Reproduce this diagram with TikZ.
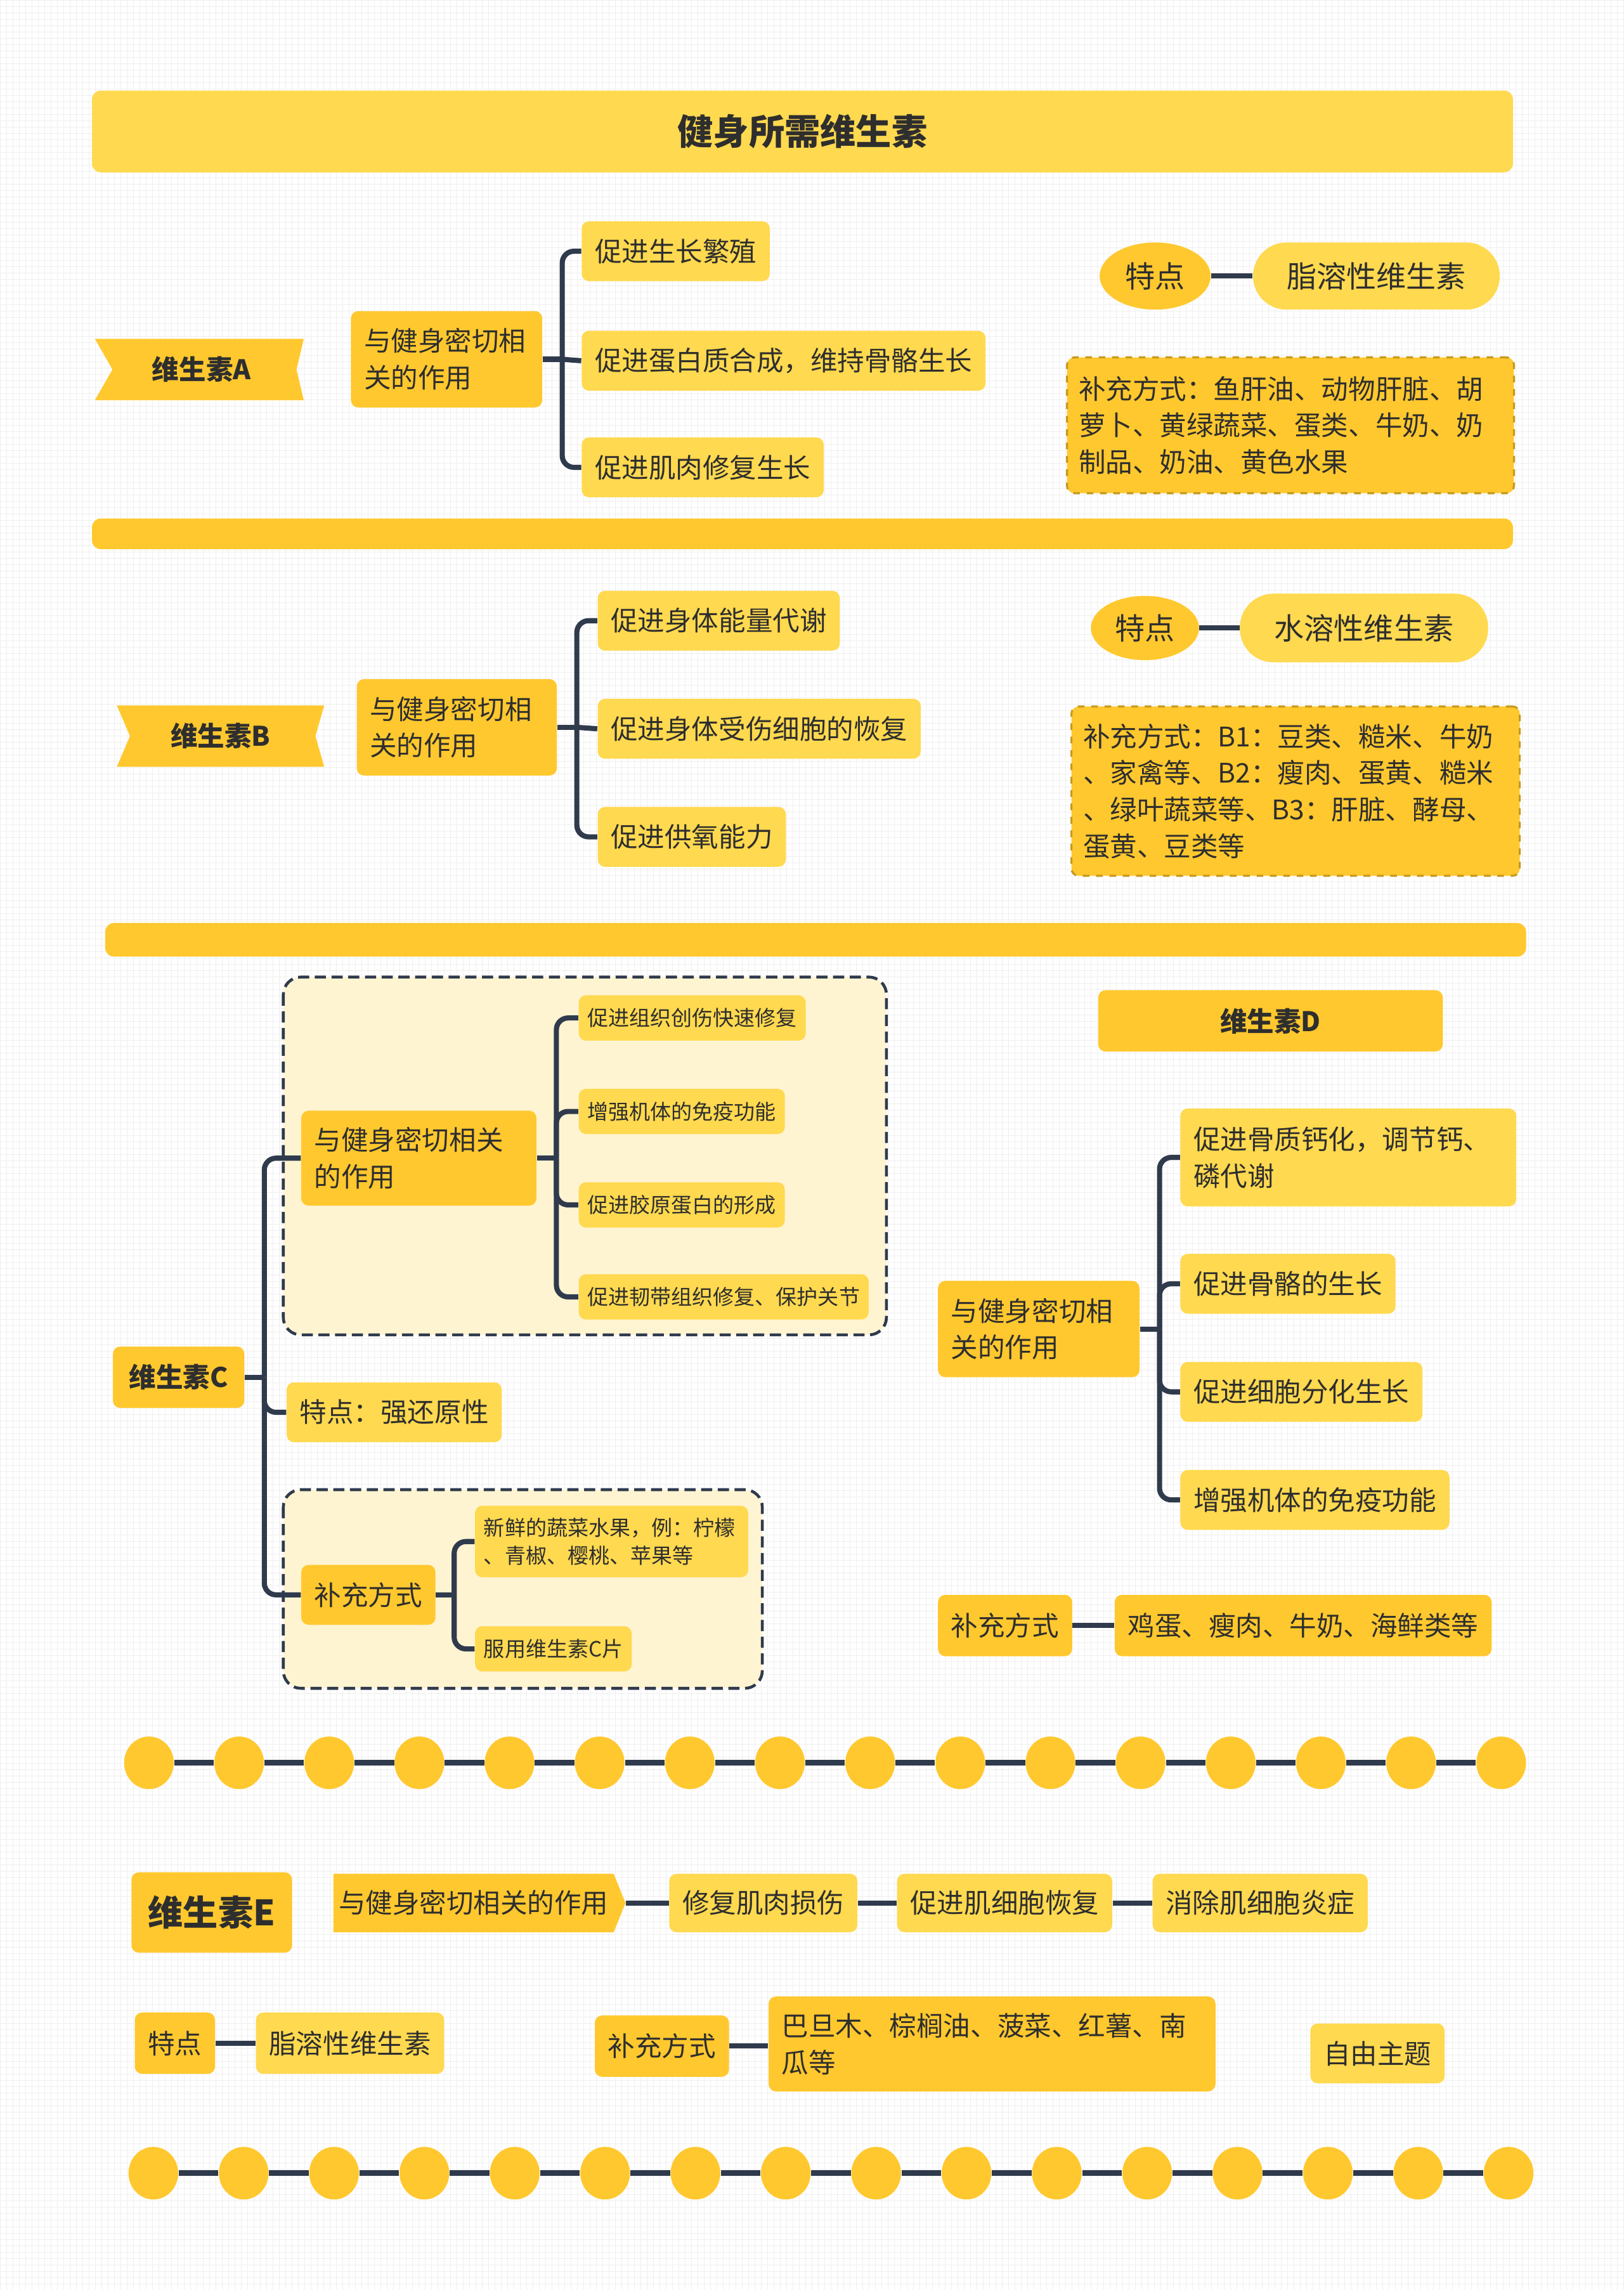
\documentclass[tikz,border=0pt]{standalone}
\usepackage{fontspec}
\setmainfont{Noto Sans CJK SC}
\usepackage{xcolor}
\usetikzlibrary{shapes.geometric,shapes.symbols}

\definecolor{ylight}{HTML}{FFD94F}
\definecolor{ydark}{HTML}{FFC82E}
\definecolor{ycream}{HTML}{FFF4D2}
\definecolor{linkc}{HTML}{2F3A4C}
\definecolor{txtc}{HTML}{2E2E2E}
\definecolor{dashc}{HTML}{C79A1C}
\definecolor{gridc}{HTML}{EFEFEF}

\newdimen\pxu
\pxu=0.023022cm
\newcommand\fnorm{\fontsize{12.1pt}{16.4pt}\selectfont}
\newcommand\fpill{\fontsize{13.4pt}{17pt}\selectfont}
\newcommand\fsmall{\fontsize{9.4pt}{12.6pt}\selectfont}
\newcommand\fhead{\fontsize{12.1pt}{16.4pt}\selectfont\bfseries}
\newcommand\ftitle{\fontsize{16pt}{20pt}\selectfont\bfseries}
\newcommand\fbigE{\fontsize{15.7pt}{20pt}\selectfont\bfseries}

\tikzset{
  leaf/.style={fill=ylight, text=txtc, font=\fnorm, rounded corners=5\pxu,
    inner xsep=9\pxu, inner ysep=0pt, minimum height=41\pxu, anchor=west},
  parent/.style={leaf, fill=ydark},
  smallleaf/.style={leaf, font=\fsmall, inner xsep=6\pxu, minimum height=31\pxu},
  headbox/.style={fill=ydark, text=txtc, font=\fhead, rounded corners=5\pxu,
    inner sep=0pt, minimum height=42\pxu},
  supply/.style={fill=ydark, draw=dashc, dashed, line width=0.9pt, text=txtc,
    font=\fnorm, rounded corners=5\pxu, align=left, inner xsep=8\pxu,
    anchor=north west},
  region/.style={fill=ycream, draw=linkc, line width=1.3pt,
    dash pattern=on 5pt off 2.5pt, rounded corners=12\pxu},
  oval/.style={ellipse, fill=ydark, text=txtc, font=\fpill, inner sep=0pt},
  pill/.style={fill=ylight, text=txtc, font=\fpill, inner sep=0pt,
    rounded corners=23\pxu},
  link/.style={draw=linkc, line width=2.3pt},
  elbow/.style={link, rounded corners=8\pxu},
  bead/.style={ellipse, fill=ydark, inner sep=0pt, minimum width=34\pxu,
    minimum height=36\pxu},
  bar/.style={fill=ydark, rounded corners=6\pxu}
}

\begin{document}
\begin{tikzpicture}[x=0.023022cm, y=-0.023022cm]
\useasboundingbox (0,0) rectangle (1112,1568);
\fill[white] (0,0) rectangle (1112,1568);
\draw[gridc, line width=0.2pt, step=0.1cm] (0,0) grid (1112,1568);

% title
\node[fill=ylight, text=txtc, font=\ftitle, rounded corners=6\pxu,
  minimum width=973\pxu, minimum height=56\pxu] (title) at (549.5,90) {健身所需维生素};
\fill[bar] (63,355) rectangle (1036,376);
\fill[bar] (72,632) rectangle (1045,655);

% vitamin A
\fill[ydark] (65,232) -- (208,232) -- (203,253) -- (208,274) -- (65,274) -- (77,253) -- cycle;
\node[text=txtc, font=\fhead] (vA) at (138,253) {维生素A};
\node[parent, align=left, text width=113\pxu, minimum height=66\pxu] (rA) at (240,246) {与健身密切相\\关的作用};
\node[leaf] (a1) at (398,172) {促进生长繁殖};
\node[leaf] (a2) at (398,247) {促进蛋白质合成，维持骨骼生长};
\node[leaf] (a3) at (398,320) {促进肌肉修复生长};
\coordinate (jA) at (385,246);
\draw[link] (rA.east) -- (jA);
\draw[elbow] (jA) |- (a1.west);
\draw[link] (jA) -- (a2.west);
\draw[elbow] (jA) |- (a3.west);
\node[oval, minimum width=76\pxu, minimum height=46\pxu] (tA) at (791,189) {特点};
\node[pill, minimum width=169\pxu, minimum height=46\pxu] (fA) at (942.5,189) {脂溶性维生素};
\draw[link] (tA) -- (fA);
\node[supply, text width=290\pxu, minimum height=93\pxu] (sA) at (730,244)
  {补充方式：鱼肝油、动物肝脏、胡\\萝卜、黄绿蔬菜、蛋类、牛奶、奶\\制品、奶油、黄色水果};

% vitamin B
\fill[ydark] (80,483) -- (222,483) -- (216,504) -- (222,525) -- (80,525) -- (89,504) -- cycle;
\node[text=txtc, font=\fhead] (vB) at (151,504) {维生素B};
\node[parent, align=left, text width=119\pxu, minimum height=66\pxu] (rB) at (244,498) {与健身密切相\\关的作用};
\node[leaf] (b1) at (409,425) {促进身体能量代谢};
\node[leaf] (b2) at (409,499) {促进身体受伤细胞的恢复};
\node[leaf] (b3) at (409,573) {促进供氧能力};
\coordinate (jB) at (395,498);
\draw[link] (rB.east) -- (jB);
\draw[elbow] (jB) |- (b1.west);
\draw[link] (jB) -- (b2.west);
\draw[elbow] (jB) |- (b3.west);
\node[oval, minimum width=74\pxu, minimum height=44\pxu] (tB) at (784,430) {特点};
\node[pill, minimum width=170\pxu, minimum height=47\pxu] (fB) at (934,430) {水溶性维生素};
\draw[link] (tB) -- (fB);
\node[supply, text width=291\pxu, minimum height=116\pxu] (sB) at (733,483)
  {补充方式：B1：豆类、糙米、牛奶\\、家禽等、B2：瘦肉、蛋黄、糙米\\、绿叶蔬菜等、B3：肝脏、酵母、\\蛋黄、豆类等};

% vitamin C
\draw[region] (194,669) rectangle (607,914);
\draw[region] (194,1020) rectangle (522,1156);
\node[headbox, minimum width=90\pxu, anchor=west] (vC) at (77,943) {维生素C};
\node[parent, align=left, text width=143\pxu, minimum height=65\pxu] (rC) at (206,793) {与健身密切相关\\的作用};
\node[leaf] (kC) at (196,967) {特点：强还原性};
\node[parent] (sC) at (206,1092) {补充方式};
\coordinate (jC) at (181,943);
\draw[link] (vC.east) -- (jC);
\draw[elbow] (jC) |- (rC.west);
\draw[elbow] (jC) |- (kC.west);
\draw[elbow] (jC) |- (sC.west);
\node[smallleaf] (c1) at (396,697) {促进组织创伤快速修复};
\node[smallleaf] (c2) at (396,761) {增强机体的免疫功能};
\node[smallleaf] (c3) at (396,825) {促进胶原蛋白的形成};
\node[smallleaf] (c4) at (396,888) {促进韧带组织修复、保护关节};
\coordinate (jC1) at (381,793);
\draw[link] (rC.east) -- (jC1);
\draw[elbow] (jC1) |- (c1.west);
\draw[elbow] (jC1) |- (c2.west);
\draw[elbow] (jC1) |- (c3.west);
\draw[elbow] (jC1) |- (c4.west);
\node[smallleaf, align=left, text width=175\pxu, minimum height=49\pxu] (sC1) at (325,1055.5) {新鲜的蔬菜水果，例：柠檬\\、青椒、樱桃、苹果等};
\node[smallleaf] (sC2) at (325,1129) {服用维生素C片};
\coordinate (jC2) at (311,1092);
\draw[link] (sC.east) -- (jC2);
\draw[elbow] (jC2) |- (sC1.west);
\draw[elbow] (jC2) |- (sC2.west);

% vitamin D
\node[headbox, minimum width=236\pxu] (vD) at (870,699) {维生素D};
\node[parent, align=left, text width=120\pxu, minimum height=66\pxu] (rD) at (642,910) {与健身密切相\\关的作用};
\node[leaf, align=left, text width=212\pxu, minimum height=67\pxu] (d1) at (808,792.5) {促进骨质钙化，调节钙、\\磷代谢};
\node[leaf] (d2) at (808,879) {促进骨骼的生长};
\node[leaf] (d3) at (808,953) {促进细胞分化生长};
\node[leaf] (d4) at (808,1027) {增强机体的免疫功能};
\coordinate (jD) at (794,910);
\draw[link] (rD.east) -- (jD);
\draw[elbow] (jD) |- (d1.west);
\draw[elbow] (jD) |- (d2.west);
\draw[elbow] (jD) |- (d3.west);
\draw[elbow] (jD) |- (d4.west);
\node[parent, minimum height=42\pxu] (pD) at (642,1113) {补充方式};
\node[parent, minimum height=42\pxu, minimum width=258\pxu] (eD) at (763,1113) {鸡蛋、瘦肉、牛奶、海鲜类等};
\draw[link] (pD) -- (eD);

% bead chains
\foreach \i in {0,...,15}
  \node[bead] (p\i) at ({102+61.73*\i},1207) {};
\foreach \i [count=\j] in {0,...,14}
  \draw[link, line width=2.6pt] (p\i) -- (p\j);
\foreach \i in {0,...,15}
  \node[bead] (q\i) at ({105+61.87*\i},1488) {};
\foreach \i [count=\j] in {0,...,14}
  \draw[link, line width=2.6pt] (q\i) -- (q\j);

% vitamin E
\node[headbox, font=\fbigE, minimum width=110\pxu, minimum height=55\pxu] (vE) at (145,1309.5) {维生素E};
\node[signal, signal to=east, signal pointer angle=136, fill=ydark, text=txtc,
  font=\fnorm, inner sep=0pt, minimum width=200\pxu, minimum height=40\pxu,
  anchor=west] (rE) at (228,1303) {与健身密切相关的作用};
\node[leaf, minimum height=40\pxu] (e1) at (458,1303) {修复肌肉损伤};
\node[leaf, minimum height=40\pxu] (e2) at (614,1303) {促进肌细胞恢复};
\node[leaf, minimum height=40\pxu] (e3) at (789,1303) {消除肌细胞炎症};
\draw[link] (rE.east) -- (e1);
\draw[link] (e1) -- (e2);
\draw[link] (e2) -- (e3);
\node[parent, minimum height=42\pxu] (tE) at (92,1399) {特点};
\node[leaf, minimum height=42\pxu] (fE) at (175,1399) {脂溶性维生素};
\draw[link] (tE) -- (fE);
\node[parent, minimum height=42\pxu] (pE) at (407,1401) {补充方式};
\node[parent, align=left, text width=288\pxu, minimum height=65\pxu] (gE) at (526,1399.5) {巴旦木、棕榈油、菠菜、红薯、南\\瓜等};
\draw[link] (pE) -- (pE -| gE.west);
\node[leaf] (zE) at (897,1406) {自由主题};
\end{tikzpicture}
\end{document}
